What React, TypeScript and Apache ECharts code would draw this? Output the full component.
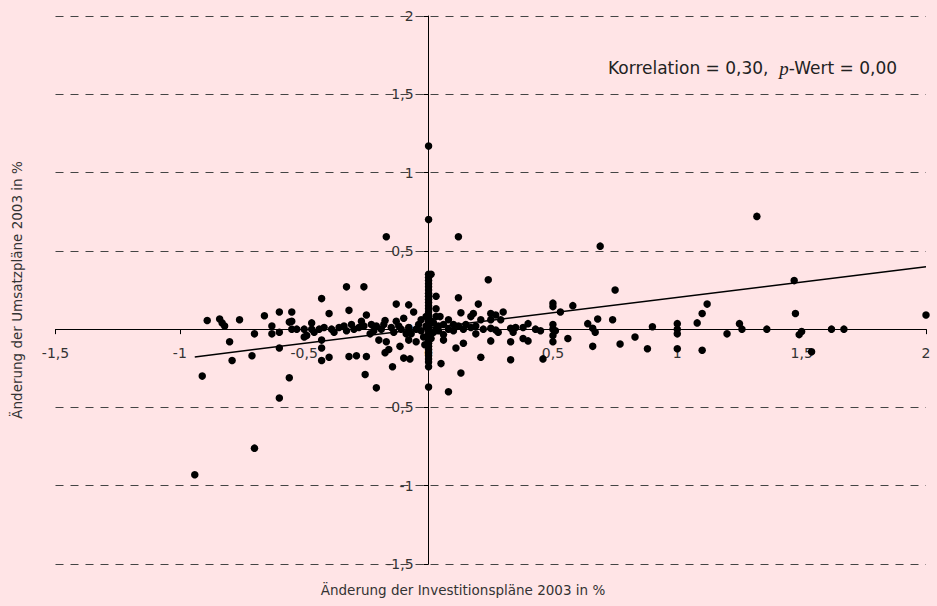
import React, { useEffect, useRef } from "react";
import * as echarts from "echarts";

// Scatter values: [Änderung Investitionspläne, Änderung Umsatzpläne]
const leftOuterPoints: number[][] = [
  [-0.94, -0.93], [-0.70, -0.76], [-0.60, -0.44], [-0.56, -0.31], [-0.91, -0.30],
  [-0.79, -0.20], [-0.71, -0.17], [-0.80, -0.08], [-0.89, 0.055], [-0.84, 0.065],
  [-0.83, 0.04], [-0.82, 0.02], [-0.76, 0.06], [-0.70, -0.03], [-0.66, 0.085],
  [-0.63, 0.02], [-0.63, -0.03], [-0.60, 0.11], [-0.55, 0.11], [-0.56, 0.045],
  [-0.55, 0.05], [-0.60, -0.02], [-0.60, -0.12], [-0.55, 0.0], [-0.53, 0.0],
];

const leftInnerPoints: number[][] = [
  [-0.43, 0.195], [-0.40, 0.10], [-0.33, 0.27], [-0.26, 0.27], [-0.32, 0.12],
  [-0.25, 0.09], [-0.13, 0.16], [-0.08, 0.155], [-0.06, 0.11], [-0.10, 0.07],
  [-0.175, 0.055], [-0.13, 0.05], [-0.27, 0.05], [-0.47, 0.04], [-0.17, 0.59],
  [-0.50, 0.0], [-0.47, 0.0], [-0.44, 0.0], [-0.42, 0.01], [-0.39, 0.0],
  [-0.36, 0.01], [-0.34, 0.02], [-0.31, 0.03], [-0.28, 0.01], [-0.26, 0.02],
  [-0.23, 0.03], [-0.21, 0.02], [-0.18, 0.03], [-0.15, 0.01], [-0.12, 0.02],
  [-0.08, 0.01], [-0.05, 0.0], [-0.03, -0.01],
  [-0.50, -0.05], [-0.49, -0.04], [-0.43, -0.07], [-0.43, -0.12], [-0.43, -0.20],
  [-0.40, -0.18], [-0.32, -0.175], [-0.29, -0.17], [-0.25, -0.175], [-0.255, -0.29],
  [-0.21, -0.375], [-0.20, -0.07], [-0.17, -0.08], [-0.16, -0.13], [-0.175, -0.15],
  [-0.115, -0.11], [-0.145, -0.24], [-0.10, -0.185], [-0.075, -0.19], [-0.08, -0.07],
  [-0.07, -0.03], [-0.235, -0.03],
  [-0.46, -0.02], [-0.38, -0.02], [-0.33, -0.01], [-0.30, 0.0], [-0.22, -0.01],
  [-0.19, 0.0], [-0.14, -0.02], [-0.11, 0.0], [-0.09, -0.03], [-0.04, 0.03],
  [-0.03, 0.06], [-0.02, -0.05], [-0.05, -0.08],
];

const zeroColumnPoints: number[][] = [
  [0, 1.17], [0, 0.70], [0, 0.35], [0, 0.33], [0, 0.31], [0, 0.29], [0, 0.27],
  [0, 0.25], [0, 0.23], [0, 0.21], [0, 0.19], [0, 0.17], [0, 0.15], [0, 0.13],
  [0, 0.11], [0, 0.09], [0, 0.07], [0, 0.05], [0, 0.03], [0, 0.01], [0, -0.01],
  [0, -0.03], [0, -0.05], [0, -0.07], [0, -0.09], [0, -0.11], [0, -0.13], [0, -0.15],
  [0, -0.17], [0, -0.19], [0, -0.21], [0, -0.24], [0, -0.37],
  [0.01, 0.35], [0.01, 0.05], [-0.01, 0.02], [0.02, -0.02], [0.01, -0.06],
  [-0.01, 0.08], [0.03, 0.21], [0.03, 0.13], [0.03, 0.08], [0.03, 0.0],
  [0.02, 0.04], [0.04, -0.01], [-0.015, -0.1],
];

const rightInnerPoints: number[][] = [
  [0.046, 0.08], [0.04, 0.02], [0.06, 0.03], [0.08, 0.06], [0.12, 0.20],
  [0.13, 0.105], [0.20, 0.16], [0.18, 0.10], [0.17, 0.08], [0.25, 0.10],
  [0.27, 0.09], [0.30, 0.11], [0.21, 0.06], [0.29, 0.06], [0.25, 0.06],
  [0.24, 0.315], [0.12, 0.59],
  [0.10, 0.03], [0.12, 0.02], [0.15, 0.03], [0.17, 0.01], [0.19, 0.02],
  [0.08, 0.0], [0.10, -0.01], [0.14, 0.0], [0.19, -0.03], [0.25, 0.005],
  [0.27, -0.005], [0.28, -0.02], [0.33, 0.005], [0.35, 0.01], [0.34, -0.02],
  [0.38, 0.01], [0.40, 0.035], [0.43, 0.0], [0.22, 0.0],
  [0.38, -0.06], [0.40, -0.075], [0.33, -0.08], [0.25, -0.075], [0.14, -0.09],
  [0.11, -0.12], [0.06, -0.07], [0.06, -0.035], [0.21, -0.18], [0.33, -0.195],
  [0.05, -0.22], [0.13, -0.28], [0.08, -0.40], [0.46, -0.19],
];

const rightOuterPoints: number[][] = [
  [0.45, -0.01], [0.50, 0.166], [0.50, 0.144], [0.58, 0.15], [0.53, 0.11],
  [0.75, 0.25], [0.50, 0.03], [0.50, 0.0], [0.51, -0.01], [0.50, -0.04],
  [0.50, -0.08], [0.56, -0.06], [0.64, 0.035], [0.68, 0.065], [0.66, 0.005],
  [0.67, -0.02], [0.66, -0.11], [0.74, 0.06], [0.77, -0.095], [0.83, -0.05],
  [0.88, -0.125], [0.90, 0.015], [1.0, 0.035], [1.0, 0.0], [1.0, -0.03],
  [1.0, -0.125], [1.08, 0.04], [1.10, 0.10], [1.12, 0.16], [1.10, -0.135],
  [1.20, -0.03], [1.25, 0.035], [1.26, 0.0], [1.36, 0.0], [1.49, -0.035],
  [1.50, -0.015], [1.62, 0.0], [1.67, 0.0], [1.54, -0.145], [1.47, 0.31],
  [1.475, 0.10], [1.32, 0.72], [2.0, 0.09], [0.69, 0.53],
];

// Regression line
const trendIntercept = 0.007;
const trendSlope = 0.196;
const trendXRange = [-0.94, 2];

const axisMin = -1.5;
const axisMax = 2;
const axisInterval = 0.5;

const xAxisTitle = "Änderung der Investitionspläne 2003 in %";
const yAxisTitle = "Änderung der Umsatzpläne 2003 in %";
const correlationText = ["Korrelation = 0,30,  ", "p", "-Wert = 0,00"];

const FONT = "'DejaVu Sans', 'Open Sans', sans-serif";

const W = 937;
const H = 606;
const GRID_LEFT = 55.5;
const GRID_RIGHT = 11;
const GRID_TOP = 16;
const GRID_BOTTOM = 42;

export default function App() {
  const ref = useRef<HTMLDivElement>(null);
  useEffect(() => {
    const chart = echarts.init(ref.current!, null, { renderer: "svg" });
    const fmt = (v: number) => String(v).replace(".", ",");
    const allPoints = [
      ...leftOuterPoints,
      ...leftInnerPoints,
      ...zeroColumnPoints,
      ...rightInnerPoints,
      ...rightOuterPoints,
    ];
    const trendData = trendXRange.map((x) => [x, trendIntercept + trendSlope * x]);
    // Both axes cross at the origin: shift each whole axis (line, ticks, labels) there.
    const gridW = W - GRID_LEFT - GRID_RIGHT;
    const gridH = H - GRID_TOP - GRID_BOTTOM;
    const yAxisShift = ((0 - axisMin) / (axisMax - axisMin)) * gridW;
    const xAxisShift = ((0 - axisMin) / (axisMax - axisMin)) * gridH;
    chart.setOption({
      animation: false,
      backgroundColor: "#FFE4E6",
      textStyle: { fontFamily: FONT },
      grid: { left: GRID_LEFT, right: GRID_RIGHT, top: GRID_TOP, bottom: GRID_BOTTOM },
      xAxis: {
        type: "value",
        position: "bottom",
        offset: -xAxisShift,
        min: axisMin,
        max: axisMax,
        interval: axisInterval,
        axisLine: { onZero: false, lineStyle: { color: "#000", width: 1 } },
        axisTick: { show: true, length: 5, lineStyle: { color: "#000" } },
        axisLabel: { formatter: fmt, color: "#333", fontSize: 14, margin: 17, fontFamily: FONT },
        splitLine: { show: false },
      },
      yAxis: {
        type: "value",
        position: "left",
        offset: -yAxisShift,
        min: axisMin,
        max: axisMax,
        interval: axisInterval,
        axisLine: { onZero: false, lineStyle: { color: "#000", width: 1 } },
        axisTick: { show: true, length: 5, lineStyle: { color: "#000" } },
        axisLabel: { formatter: fmt, color: "#333", fontSize: 14, margin: 15, fontFamily: FONT },
        splitLine: { show: true, lineStyle: { type: [8, 7], color: "#444", width: 1 } },
      },
      graphic: [
        {
          type: "text",
          x: 463,
          y: 590,
          style: {
            text: xAxisTitle,
            fontSize: 13.5,
            fontFamily: FONT,
            fill: "#333",
            align: "center",
            verticalAlign: "middle",
          },
        },
        {
          type: "text",
          x: 17,
          y: 290,
          rotation: Math.PI / 2,
          style: {
            text: yAxisTitle,
            fontSize: 13.5,
            fontFamily: FONT,
            fill: "#333",
            align: "center",
            verticalAlign: "middle",
          },
        },
        {
          type: "text",
          x: 608,
          y: 68,
          style: {
            text:
              "{a|" + correlationText[0] + "}{p|" + correlationText[1] + "}{a|" + correlationText[2] + "}",
            verticalAlign: "middle",
            rich: {
              a: { fontSize: 17, fontFamily: FONT, fill: "#222", color: "#222" },
              p: {
                fontSize: 19,
                fontFamily: "'Liberation Serif', 'DejaVu Serif', serif",
                fontStyle: "italic",
                color: "#222",
                fill: "#222",
              },
            },
          },
        },
      ],
      series: [
        {
          type: "scatter",
          data: allPoints,
          symbol: "circle",
          symbolSize: 7.5,
          itemStyle: { color: "#000", opacity: 1 },
          z: 3,
        },
        {
          type: "line",
          data: trendData,
          showSymbol: false,
          symbol: "none",
          lineStyle: { color: "#000", width: 1.5 },
          z: 4,
        },
      ],
    });
    return () => chart.dispose();
  }, []);
  return (
    <div
      ref={ref}
      style={{ position: "fixed", left: 0, top: 0, width: W, height: H }}
    />
  );
}
